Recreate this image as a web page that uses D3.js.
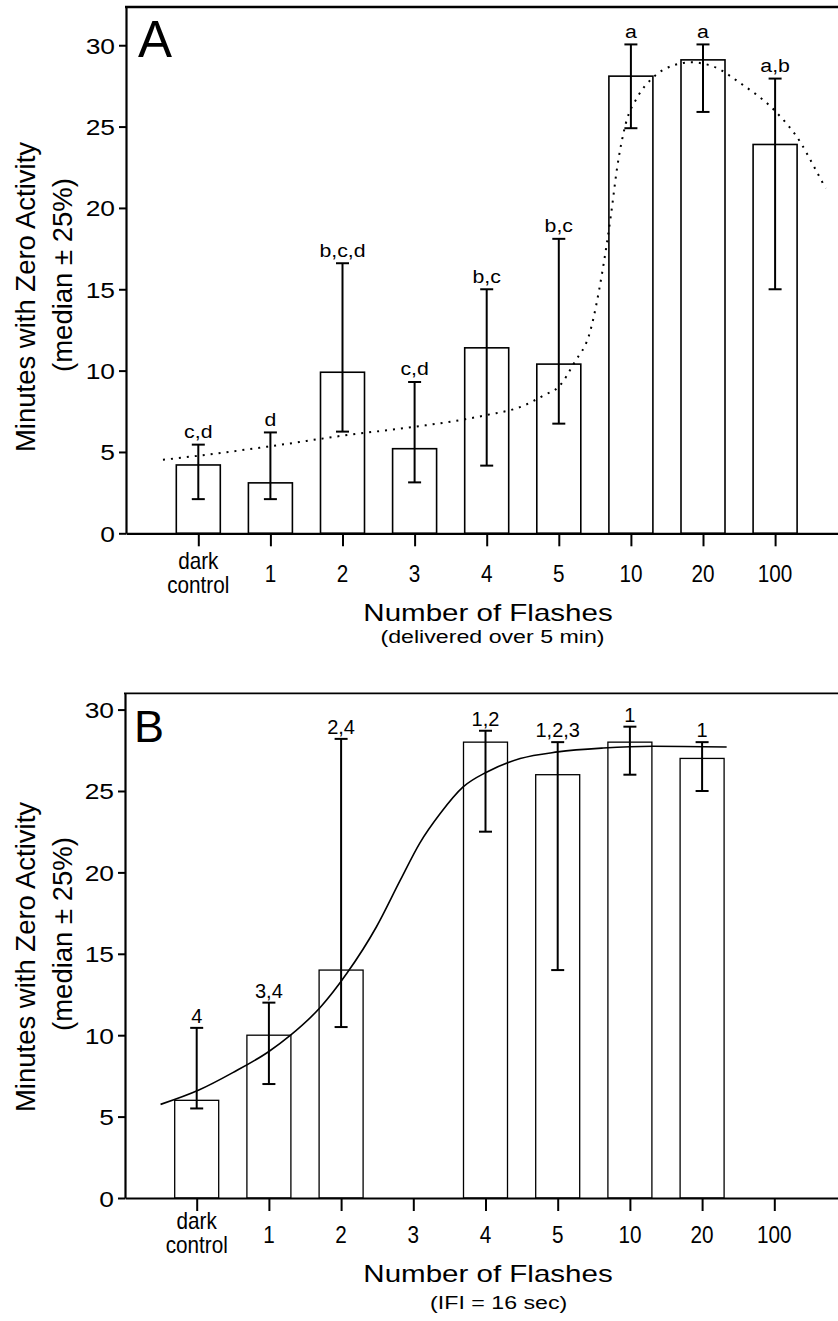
<!DOCTYPE html>
<html>
<head>
<meta charset="utf-8">
<script src="https://cdn.jsdelivr.net/npm/d3@7"></script>
<style>
  body { margin: 0; background: #fff; }
  svg { display: block; font-family: "Liberation Sans", Arial, Helvetica, sans-serif; }
</style>
</head>
<body>
<svg id="chart" width="838" height="1321"></svg>
<script>
// categories shared by both panels
const categories = ["dark control", "1", "2", "3", "4", "5", "10", "20", "100"];
const yTicks = [0, 5, 10, 15, 20, 25, 30];

// panel A: flashes delivered over 5 min
const medianA = [4.2, 3.1, 9.9, 5.2, 11.4, 10.4, 28.1, 29.1, 23.9];
const lowA = [2.1, 2.1, 6.25, 3.13, 4.16, 6.74, 24.9, 25.9, 15.0];
const highA = [5.45, 6.2, 16.6, 9.3, 15.0, 18.1, 30.05, 30.05, 27.95];
const lettersA = ["c,d", "d", "b,c,d", "c,d", "b,c", "b,c", "a", "a", "a,b"];
// dotted fit curve A (x in category units, y in minutes)
const fitAX = [-0.49, 0, 1, 2, 3, 3.5, 4, 4.5, 4.8, 5.0, 5.21, 5.44, 5.6, 5.72, 5.81, 5.93, 6.09, 6.32, 6.6, 6.83, 7.15, 7.52, 7.99, 8.36, 8.52, 8.7];
const fitAY = [4.52, 4.77, 5.35, 6.0, 6.55, 6.86, 7.27, 7.82, 8.5, 9.01, 10.45, 12.49, 15.98, 19.46, 22.5, 25.2, 26.8, 28.07, 28.78, 28.95, 28.68, 27.66, 26.0, 23.97, 22.7, 21.2];

// panel B: IFI = 16 sec
const medianB = [6, 10, 14, null, 28, 26, 28, 27, null];
const lowB = [5.5, 7, 10.5, null, 22.5, 14, 26, 25, null];
const highB = [10.45, 12, 28.2, null, 28.7, 28, 28.95, 28, null];
const lettersB = ["4", "3,4", "2,4", "", "1,2", "1,2,3", "1", "1", ""];
// solid fit curve B
const fitBX = [-0.5, 0.03, 0.5, 1.0, 1.3, 1.71, 2.08, 2.49, 2.82, 3.09, 3.37, 3.69, 4.02, 4.48, 5.0, 5.63, 6.32, 7.34];
const fitBY = [5.75, 6.63, 7.7, 9.0, 10.0, 11.7, 13.8, 16.66, 19.52, 21.8, 23.6, 25.25, 26.17, 26.99, 27.4, 27.64, 27.75, 27.7];

const svg = d3.select("#chart");

// text with horizontal stretch, anchored at (x, y)
function label(g, x, y, txt, size, sx, anchor) {
    return g.append("text")
        .attr("transform", `translate(${x},${y}) scale(${sx},1)`)
        .attr("text-anchor", anchor)
        .style("font-size", size + "px")
        .text(txt);
}

function drawPanel(cfg) {
    const g = svg.append("g");
    const right = 870;

    const y = d3.scaleLinear().domain([0, cfg.yMax]).range([cfg.yZero, cfg.yTop]);
    const x = d3.scaleLinear()
        .domain([-(cfg.x0 - cfg.axisX) / cfg.step, (right - cfg.x0) / cfg.step])
        .range([cfg.axisX, right]);
    const barW = 44;

    // bars
    const idx = d3.range(categories.length).filter(i => cfg.median[i] !== null);
    g.selectAll(".bar")
        .data(idx)
        .enter()
        .append("rect")
        .attr("x", i => x(i) - barW / 2)
        .attr("y", i => y(cfg.median[i]))
        .attr("width", barW)
        .attr("height", i => y(0) - y(cfg.median[i]))
        .attr("fill", "white")
        .attr("stroke", "black")
        .attr("stroke-width", cfg.barStroke);

    // fit curve
    const pts = cfg.fitX.map((v, k) => [v, cfg.fitY[k]]);
    g.append("path")
        .attr("d", d3.line().x(d => x(d[0])).y(d => y(d[1])).curve(d3.curveMonotoneX)(pts))
        .attr("fill", "none")
        .attr("stroke", "black")
        .attr("stroke-width", cfg.dotted ? 2 : 1.6)
        .attr("stroke-dasharray", cfg.dotted ? "2,6" : null);

    // error bars
    const err = g.selectAll(".err").data(idx).enter().append("g");
    err.append("line")
        .attr("x1", i => x(i)).attr("x2", i => x(i))
        .attr("y1", i => y(cfg.low[i])).attr("y2", i => y(cfg.high[i]))
        .attr("stroke", "black").attr("stroke-width", 2);
    err.append("line")
        .attr("x1", i => x(i) - 6.5).attr("x2", i => x(i) + 6.5)
        .attr("y1", i => y(cfg.low[i])).attr("y2", i => y(cfg.low[i]))
        .attr("stroke", "black").attr("stroke-width", 2);
    err.append("line")
        .attr("x1", i => x(i) - 6.5).attr("x2", i => x(i) + 6.5)
        .attr("y1", i => y(cfg.high[i])).attr("y2", i => y(cfg.high[i]))
        .attr("stroke", "black").attr("stroke-width", 2);

    // significance letters
    idx.forEach(i => {
        label(g, x(i), y(cfg.high[i]) - cfg.letterGap, cfg.letters[i], cfg.letterSize, cfg.letterSx, "middle");
    });

    // y axis
    const yAxis = g.append("g")
        .attr("transform", `translate(${cfg.axisX},0)`)
        .call(d3.axisLeft(y).tickValues(yTicks).tickSize(7).tickSizeOuter(0).tickFormat(d3.format("d")));
    yAxis.select(".domain").attr("stroke-width", 2.2);
    yAxis.selectAll(".tick line").attr("stroke-width", 2);
    yAxis.selectAll(".tick text")
        .attr("x", null)
        .attr("dy", null)
        .attr("transform", "translate(-11,8) scale(1.2,1)")
        .attr("fill", "black")
        .style("font-size", "22px")
        .style("font-family", "Liberation Sans, Arial, sans-serif");

    // x axis
    const xAxis = g.append("g")
        .attr("transform", `translate(0,${cfg.yZero})`)
        .call(d3.axisBottom(x).tickValues(d3.range(categories.length)).tickSize(13).tickSizeOuter(0).tickFormat(""));
    xAxis.select(".domain").attr("stroke-width", 2.2);
    xAxis.selectAll(".tick line").attr("stroke-width", 2);

    categories.forEach((c, i) => {
        const parts = c.split(" ");
        if (parts.length === 1) {
            label(g, x(i), cfg.yZero + cfg.tickOne, c, 23, 0.9, "middle");
        } else {
            label(g, x(i), cfg.yZero + cfg.tickTwo[0], parts[0], 23, 0.9, "middle");
            label(g, x(i), cfg.yZero + cfg.tickTwo[1], parts[1], 23, 0.9, "middle");
        }
    });

    // top frame line
    g.append("line")
        .attr("x1", cfg.axisX - 1).attr("x2", right)
        .attr("y1", y(cfg.yMax)).attr("y2", y(cfg.yMax))
        .attr("stroke", "black").attr("stroke-width", cfg.frameStroke);

    // panel letter
    g.append("text")
        .attr("x", cfg.letterX).attr("y", cfg.letterY)
        .style("font-size", cfg.panelSize + "px")
        .text(cfg.panel);

    // axis titles
    label(g, 488, cfg.yZero + cfg.titleDy, "Number of Flashes", 24, 1.23, "middle");
    label(g, cfg.subX, cfg.yZero + cfg.subDy, cfg.sub, 19, 1.22, "middle");

    g.append("text")
        .attr("transform", `translate(35,${cfg.yTitle1}) rotate(-90)`)
        .attr("text-anchor", "middle")
        .style("font-size", "27.5px")
        .text("Minutes with Zero Activity");
    g.append("text")
        .attr("transform", `translate(72,${cfg.yTitle2}) rotate(-90)`)
        .attr("text-anchor", "middle")
        .style("font-size", "27.5px")
        .text("(median ± 25%)");
}

drawPanel({
    panel: "A", panelSize: 51, letterX: 138, letterY: 57,
    axisX: 126, x0: 198.3, step: 72.1,
    yZero: 533.3, yTop: 7, yMax: 32.35,
    median: medianA, low: lowA, high: highA, letters: lettersA,
    fitX: fitAX, fitY: fitAY, dotted: true,
    barStroke: 1.6, frameStroke: 2.6,
    letterGap: 6.5, letterSize: 19, letterSx: 1.12,
    tickOne: 49, tickTwo: [36, 60],
    titleDy: 87.4, subDy: 109.4, subX: 492.5, sub: "(delivered over 5 min)",
    yTitle1: 297, yTitle2: 275
});

drawPanel({
    panel: "B", panelSize: 45, letterX: 134, letterY: 742,
    axisX: 125, x0: 196.7, step: 72.2,
    yZero: 1198, yTop: 693.3, yMax: 31,
    median: medianB, low: lowB, high: highB, letters: lettersB,
    fitX: fitBX, fitY: fitBY, dotted: false,
    barStroke: 1.3, frameStroke: 1.8,
    letterGap: 5, letterSize: 20, letterSx: 1.0,
    tickOne: 45, tickTwo: [31, 55],
    titleDy: 84, subDy: 111, subX: 498.7, sub: "(IFI = 16 sec)",
    yTitle1: 957, yTitle2: 934
});
</script>
</body>
</html>
